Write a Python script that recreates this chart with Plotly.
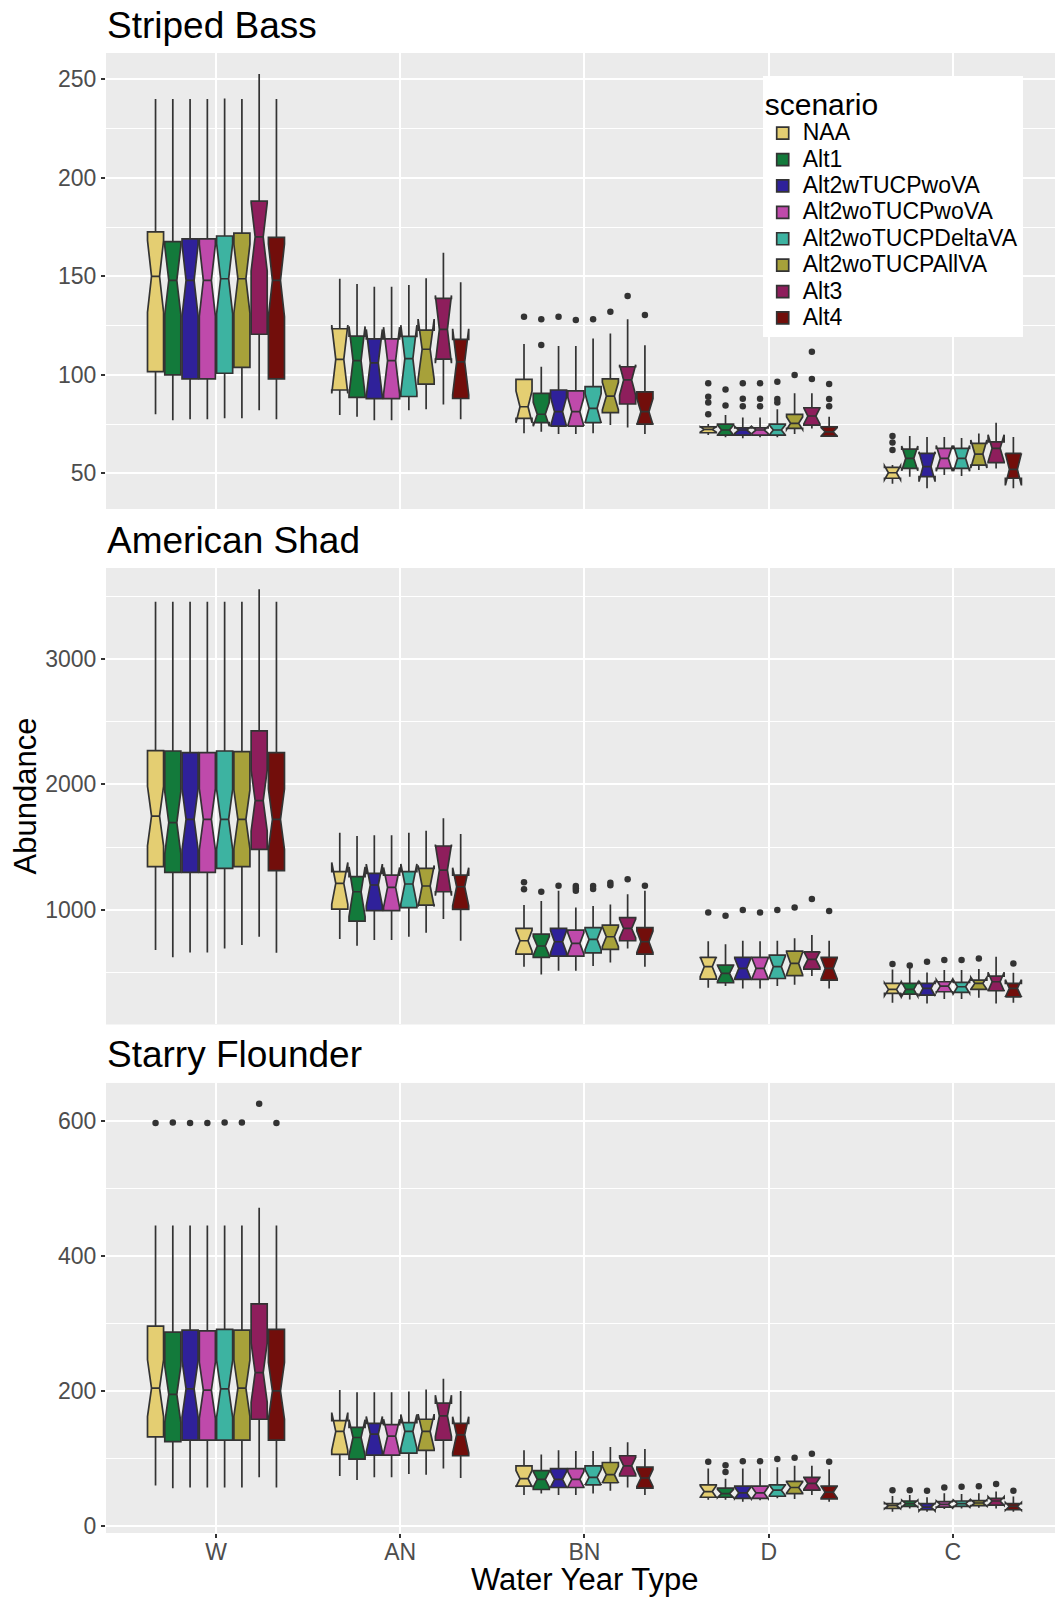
import math
import plotly.graph_objects as go

SCENARIOS = ["NAA", "Alt1", "Alt2wTUCPwoVA", "Alt2woTUCPwoVA",
             "Alt2woTUCPDeltaVA", "Alt2woTUCPAllVA", "Alt3", "Alt4"]
COLORS = ["#E4CE72", "#137A3B", "#2F219A", "#BF4AAB",
          "#3DB3A1", "#A7A13A", "#8E1E5C", "#720E0B"]
CATEGORIES = ["W", "AN", "BN", "D", "C"]
N_YEARS = [38, 8, 15, 12, 6]          # estimated sample size per water-year type (for notches)
SPECIES = ["Striped Bass", "American Shad", "Starry Flounder"]

# ---------------- Striped Bass  [scenario][category] ----------------
SB_LF = [[80, 79.6, 70.3, 69.4, 44.7], [77, 78.7, 71.1, 68.3, 48.3], [77.5, 77, 70, 67.8, 42.4],
         [77.5, 77, 70, 68.3, 49.1], [78, 82, 70.3, 68.3, 48.6], [78, 82.5, 74.5, 70, 51.7],
         [82, 85, 73.3, 72.8, 52.5], [77.5, 77.4, 70, 68.4, 42.4]]
SB_Q1 = [[101.6, 92.3, 77.9, 70.6, 47.5], [100, 88.6, 75.7, 69.4, 52.5], [98, 87.9, 74, 69.4, 48.3],
         [98, 87.9, 74, 69.4, 52.5], [100.8, 89, 75.7, 69.4, 52.5], [103.8, 95.3, 80.8, 72.8, 54.2],
         [120.6, 108, 85.2, 74.5, 55.4], [98, 88, 75, 68.9, 47.5]]
SB_MED = [[150, 107.9, 83.8, 72.3, 50.3], [148, 107.2, 80, 72, 57.6], [148, 106.1, 81.3, 72, 53.4],
          [148, 107.2, 81.3, 72, 57.6], [148.8, 108.2, 83, 72, 57.6], [148.8, 113, 89.2, 75.4, 59.8],
          [170, 123.1, 97.4, 79.1, 62.7], [148, 106.6, 81.3, 71.1, 52]]
SB_Q3 = [[172.6, 123.4, 97.7, 73.6, 53], [167.6, 119.7, 90.6, 75, 62.3], [169, 118.3, 92.3, 73.1, 60.1],
         [169, 118.3, 91.9, 73.1, 62.7], [170.5, 119.5, 94, 75, 62.7], [172, 122.7, 98, 79.9, 65.2],
         [188.2, 138.8, 104.1, 83.3, 66], [169.8, 118, 91.4, 73.6, 60.1]]
SB_UF = [[240, 148.8, 115.6, 75, 54.2], [240, 146.1, 104.1, 79.6, 68.9], [240, 144.7, 114.6, 78.4, 68.5],
         [240, 144.7, 114.6, 78.4, 68.5], [240.3, 145.6, 118.5, 82.5, 67.9], [240, 149, 121, 90.6, 70.2],
         [252.7, 162, 128.2, 90.6, 75.7], [240, 147, 115, 78.7, 68.5]]
SB_OUT = [[[], [], [129.5], [95.7, 88.9, 85.9, 80], [68.9, 65.6, 61.8]],
          [[], [], [128.2, 115.1], [92.6, 84.5], []],
          [[], [], [129.5], [95.7, 87.9, 84], []],
          [[], [], [127.8], [95.7, 87.9, 84], []],
          [[], [], [128.2], [96.5, 87.8, 86], []],
          [[], [], [132], [99.9], []],
          [[], [], [140], [111.7, 97.9], []],
          [[], [], [130.4], [95.3, 87.8, 84], []]]

# ---------------- American Shad ----------------
AS_LF = [[678, 766, 545, 377, 257], [620, 713, 483, 390, 284], [659, 758, 513, 372, 252],
         [659, 758, 513, 372, 287], [691, 784, 550, 390, 287], [718, 816, 579, 401, 297],
         [784, 925, 691, 470, 252], [657, 752, 545, 372, 257]]
AS_Q1 = [[1343, 1005, 646, 446, 332], [1298, 909, 619, 417, 326], [1298, 992, 630, 444, 318],
         [1298, 992, 630, 444, 345], [1330, 1016, 656, 451, 340], [1343, 1037, 683, 473, 364],
         [1481, 1143, 752, 526, 353], [1311, 1003, 646, 438, 305]]
AS_MED = [[1747, 1210, 752, 545, 364], [1694, 1143, 710, 491, 364], [1721, 1197, 744, 531, 372],
          [1721, 1178, 731, 531, 390], [1721, 1205, 763, 545, 385], [1721, 1189, 784, 571, 412],
          [1870, 1316, 850, 603, 425], [1721, 1183, 744, 531, 372]]
AS_Q3 = [[2269, 1303, 850, 619, 412], [2266, 1263, 805, 558, 412], [2253, 1290, 850, 619, 412],
         [2253, 1276, 837, 619, 425], [2266, 1303, 856, 638, 420], [2261, 1330, 877, 670, 438],
         [2426, 1508, 936, 664, 470], [2253, 1276, 856, 619, 412]]
AS_UF = [[3458, 1614, 1037, 749, 523], [3458, 1588, 1069, 725, 553], [3458, 1593, 1151, 752, 499],
         [3458, 1593, 1018, 749, 518], [3458, 1614, 1029, 752, 518], [3458, 1630, 1042, 771, 526],
         [3556, 1729, 1124, 797, 624], [3458, 1604, 1151, 752, 497]]
AS_OUT = [[[], [], [1218, 1162], [978], [566]],
          [[], [], [1143], [952], [555]],
          [[], [], [1191], [997], [585]],
          [[], [], [1188, 1170, 1151], [978], [598]],
          [[], [], [1188, 1164], [997], [598]],
          [[], [], [1215, 1194], [1018], [611]],
          [[], [], [1242], [1085], []],
          [[], [], [1191], [989], [571]]]

# ---------------- Starry Flounder ----------------
SF_LF = [[60, 74, 46, 39, 21], [56, 68, 48, 39, 26], [57, 72, 46, 36, 21], [57, 72, 46, 38, 25],
         [57, 77, 48, 41, 26], [57, 76, 52, 40, 27], [72, 85, 57, 46, 26], [57, 71, 46, 36, 21]]
SF_Q1 = [[132, 106, 59, 42.5, 26], [125, 99, 54, 42.5, 29], [127, 105, 57, 41, 24], [127, 105, 57, 41, 28],
         [127, 108, 61, 44, 29], [127, 112, 64, 48, 30], [158, 127, 74, 53, 31], [127, 104, 56, 40, 24]]
SF_MED = [[204, 140, 70, 51, 30], [195, 131, 69, 48, 33], [203, 136, 69, 49, 28], [201, 133, 69, 49, 32],
          [203, 140, 72, 53, 33], [204, 140, 76, 57, 34], [227, 163, 89, 63, 37], [200, 135, 71, 50, 29]]
SF_Q3 = [[296, 156, 89, 61, 33], [287, 146, 82, 56, 37], [290, 152, 85, 59, 33], [289, 150, 85, 59, 36],
         [291, 153, 89, 61, 37], [290, 158, 94, 66, 37.5], [329, 182, 104, 72, 41], [291, 152, 87, 59, 33]]
SF_UF = [[445, 201.5, 112, 85, 44.5], [445, 198, 106, 70, 46], [445, 198, 112, 85, 42.5],
         [445, 198, 111, 85, 48.5], [445, 199, 111, 87, 47.5], [445, 202, 117, 89, 48.5],
         [471, 218, 124, 89, 51], [445, 200, 114, 84, 43.5]]
SF_OUT = [[[596.5], [], [], [95], [53]],
          [[597.5], [], [], [90, 80], [53]],
          [[596.5], [], [], [96], [52]],
          [[596.5], [], [], [96], [57]],
          [[597.5], [], [], [99], [58]],
          [[597.5], [], [], [101], [59]],
          [[625], [], [], [107], [62]],
          [[596.5], [], [], [95], [52]]]

PANELS = [
    (SB_LF, SB_Q1, SB_MED, SB_Q3, SB_UF, SB_OUT),
    (AS_LF, AS_Q1, AS_MED, AS_Q3, AS_UF, AS_OUT),
    (SF_LF, SF_Q1, SF_MED, SF_Q3, SF_UF, SF_OUT),
]
Y_RANGES = [[31.9, 263.4], [84, 3726], [-10.4, 656]]
Y_DTICK = [50, 1000, 200]
Y_TICK0 = [50, 1000, 0]
DOMAINS = [[0.6919, 1.0], [0.3436, 0.6520], [0.0, 0.3041]]

DODGE = 0.75
nS = len(SCENARIOS)
step = DODGE / nS
LINE = "#333333"
FONT = "Liberation Sans, Arial, sans-serif"

fig = go.Figure()
for p, (LF, Q1, MED, Q3, UF, OUT) in enumerate(PANELS):
    xa = "x" if p == 0 else f"x{p+1}"
    ya = "y" if p == 0 else f"y{p+1}"
    for s, scen in enumerate(SCENARIOS):
        off = (s - (nS - 1) / 2) * step
        xs = [c + 1 + off for c in range(len(CATEGORIES))]
        notch = [1.58 * (Q3[s][c] - Q1[s][c]) / math.sqrt(N_YEARS[c]) for c in range(len(CATEGORIES))]
        fig.add_trace(go.Box(
            x=xs, q1=Q1[s], median=MED[s], q3=Q3[s],
            lowerfence=LF[s], upperfence=UF[s], notchspan=notch,
            notched=True, notchwidth=0.25, width=step * 0.93,
            whiskerwidth=0, boxpoints=False,
            fillcolor=COLORS[s], line=dict(color=LINE, width=1.7),
            name=f"<span style='font-size:23px'>{scen}</span>",
            legendgroup=scen, showlegend=(p == 0),
            xaxis=xa, yaxis=ya))
        ox, oy = [], []
        for c in range(len(CATEGORIES)):
            for v in OUT[s][c]:
                ox.append(c + 1 + off)
                oy.append(v)
        if ox:
            fig.add_trace(go.Scatter(
                x=ox, y=oy, mode="markers",
                marker=dict(color=LINE, size=6.5),
                showlegend=False, legendgroup=scen, xaxis=xa, yaxis=ya,
                hoverinfo="y"))

grid = dict(showgrid=True, gridcolor="white", gridwidth=1.6, zeroline=False,
            showline=False)
layout = dict(
    width=1055, height=1598,
    margin=dict(l=106, r=0, t=53, b=65),
    paper_bgcolor="white", plot_bgcolor="#EBEBEB",
    boxmode="overlay",
    font=dict(family=FONT, color="#000000"),
    legend=dict(
        x=0.692, y=0.9845, xanchor="left", yanchor="top",
        bgcolor="white", borderwidth=0,
        title=dict(text="scenario", font=dict(size=30, family=FONT, color="black")),
        font=dict(size=18, family=FONT, color="black"),
        traceorder="normal", itemclick=False,
    ),
)
for p in range(3):
    xk = "xaxis" if p == 0 else f"xaxis{p+1}"
    yk = "yaxis" if p == 0 else f"yaxis{p+1}"
    layout[xk] = dict(
        domain=[0, 1], anchor="y" if p == 0 else f"y{p+1}",
        range=[0.403, 5.554], tickmode="array",
        tickvals=[i + 1 for i in range(len(CATEGORIES))], ticktext=CATEGORIES,
        showticklabels=(p == 2), ticks="outside" if p == 2 else "",
        ticklen=4, tickwidth=1.5, tickcolor=LINE, ticklabelstandoff=-6,
        tickfont=dict(size=23, color="#4D4D4D", family=FONT),
        **grid)
    layout[yk] = dict(
        domain=DOMAINS[p], anchor="x" if p == 0 else f"x{p+1}",
        range=Y_RANGES[p], tick0=Y_TICK0[p], dtick=Y_DTICK[p],
        ticks="outside", ticklen=4, tickwidth=1.5, tickcolor=LINE,
        tickfont=dict(size=23, color="#4D4D4D", family=FONT),
        minor=dict(dtick=Y_DTICK[p] / 2, showgrid=True, gridcolor="white", gridwidth=0.8),
        **grid)
fig.update_layout(**layout)

TITLE_Y = [1.0189, 0.6709, 0.3230]
for p, name in enumerate(SPECIES):
    fig.add_annotation(text=name, xref="paper", yref="paper", x=-0.001, y=TITLE_Y[p],
                       xanchor="left", yanchor="middle", showarrow=False,
                       font=dict(size=37, family=FONT, color="black"))
fig.add_annotation(text="Abundance", xref="paper", yref="paper", x=-0.0848, y=0.498,
                   textangle=-90, xanchor="center", yanchor="middle", showarrow=False,
                   font=dict(size=31, family=FONT, color="black"))
fig.add_annotation(text="Water Year Type", xref="paper", yref="paper", x=0.5037, y=-0.0311,
                   xanchor="center", yanchor="middle", showarrow=False,
                   font=dict(size=31, family=FONT, color="black"))

fig.write_html("out.html")
